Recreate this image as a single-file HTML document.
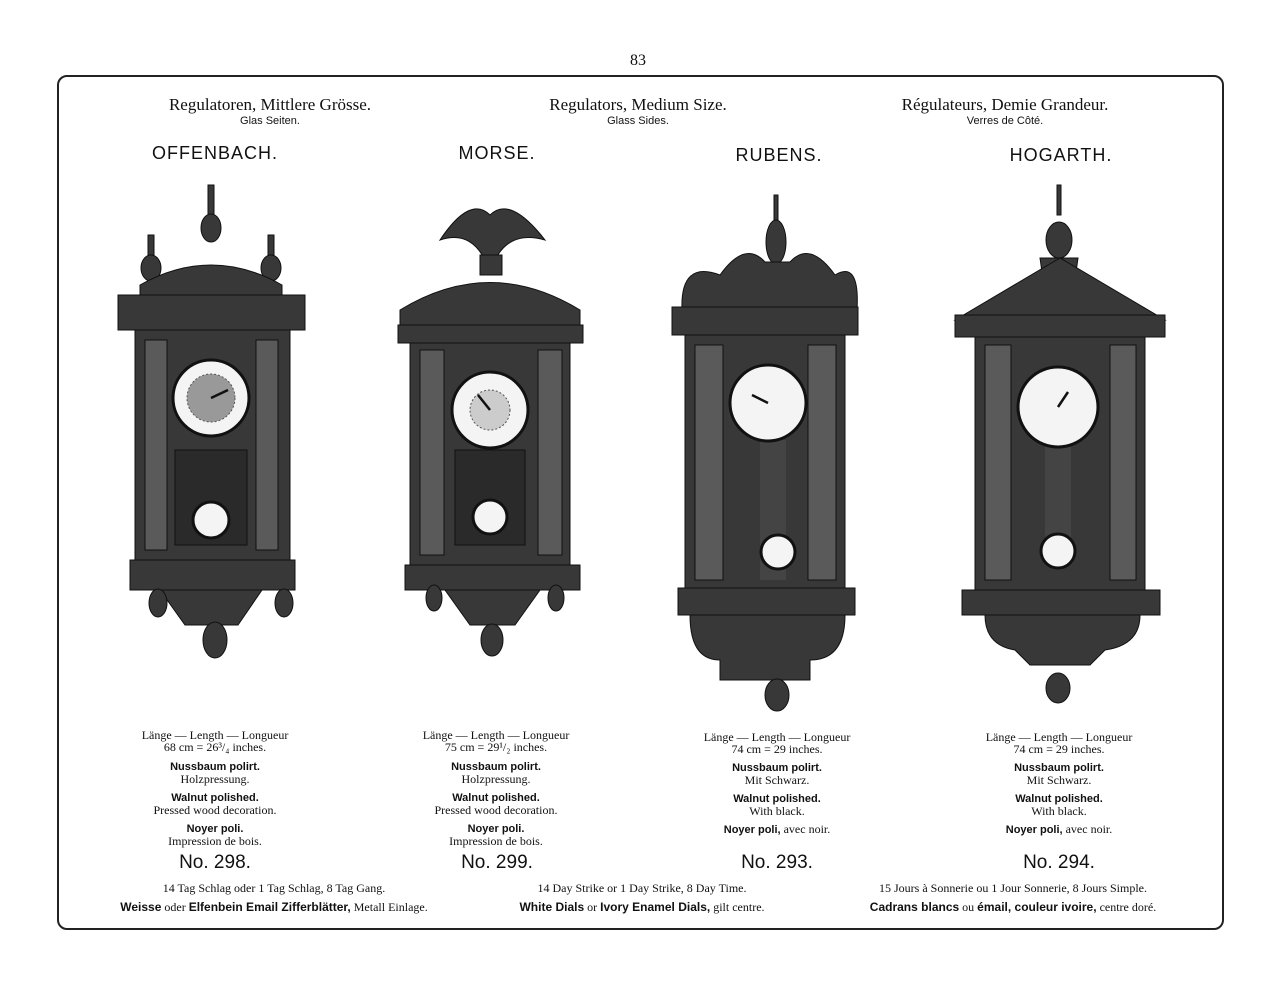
<!DOCTYPE html>
<html><head><meta charset="utf-8">
<style>
body{margin:0;background:#fff;width:1280px;height:985px;position:relative;overflow:hidden;font-family:"Liberation Serif",serif;color:#111}
.frame{position:absolute;left:57px;top:75px;width:1163px;height:851px;border:2px solid #222;border-radius:10px}
.t{position:absolute;white-space:nowrap;transform:translateX(-50%);text-align:center}
.s{font-family:"Liberation Sans",sans-serif}
.b{font-weight:bold}
svg{position:absolute;left:0;top:0}
</style></head><body>
<div class="t" style="left:638px;top:52px;font-size:16px">83</div>
<div class="frame"></div>

<div class="t" style="left:270px;top:95px;font-size:17px">Regulatoren, Mittlere Grösse.</div>
<div class="t s" style="left:270px;top:115px;font-size:11px">Glas Seiten.</div>
<div class="t" style="left:638px;top:95px;font-size:17px">Regulators, Medium Size.</div>
<div class="t s" style="left:638px;top:115px;font-size:11px">Glass Sides.</div>
<div class="t" style="left:1005px;top:95px;font-size:17px">Régulateurs, Demie Grandeur.</div>
<div class="t s" style="left:1005px;top:115px;font-size:11px">Verres de Côté.</div>

<div class="t s" style="left:215px;top:143px;font-size:18px;letter-spacing:1px">OFFENBACH.</div>
<div class="t s" style="left:497px;top:143px;font-size:18px;letter-spacing:1px">MORSE.</div>
<div class="t s" style="left:779px;top:145px;font-size:18px;letter-spacing:1px">RUBENS.</div>
<div class="t s" style="left:1061px;top:145px;font-size:18px;letter-spacing:1px">HOGARTH.</div>

<svg width="1280" height="985" viewBox="0 0 1280 985">
<g fill="#383838" stroke="#111" stroke-width="1">
<rect x="208" y="185" width="6" height="30"/><ellipse cx="211" cy="228" rx="10" ry="14"/>
<rect x="148" y="235" width="6" height="20"/><ellipse cx="151" cy="268" rx="10" ry="13"/>
<rect x="268" y="235" width="6" height="20"/><ellipse cx="271" cy="268" rx="10" ry="13"/>
<path d="M140 300 L140 285 Q211 245 282 285 L282 300Z"/>
<rect x="118" y="295" width="187" height="35"/>
<rect x="135" y="330" width="155" height="230"/>
<rect x="145" y="340" width="22" height="210" fill="#5a5a5a"/><rect x="256" y="340" width="22" height="210" fill="#5a5a5a"/>
<rect x="175" y="450" width="72" height="95" fill="#2a2a2a"/>
<rect x="130" y="560" width="165" height="30"/>
<path d="M160 590 L262 590 L238 625 L185 625Z"/>
<ellipse cx="158" cy="603" rx="9" ry="14"/><ellipse cx="284" cy="603" rx="9" ry="14"/>
<ellipse cx="215" cy="640" rx="12" ry="18"/>
<path d="M440 240 Q470 195 490 215 Q510 195 545 240 Q510 230 495 260 L485 260 Q470 230 440 240Z"/>
<rect x="480" y="255" width="22" height="20"/>
<path d="M400 330 L400 310 Q490 255 580 310 L580 330Z"/>
<rect x="398" y="325" width="185" height="18"/>
<rect x="410" y="343" width="160" height="227"/>
<rect x="420" y="350" width="24" height="205" fill="#5a5a5a"/><rect x="538" y="350" width="24" height="205" fill="#5a5a5a"/>
<rect x="455" y="450" width="70" height="95" fill="#2a2a2a"/>
<rect x="405" y="565" width="175" height="25"/>
<path d="M445 590 L540 590 L515 625 L470 625Z"/>
<ellipse cx="434" cy="598" rx="8" ry="13"/><ellipse cx="556" cy="598" rx="8" ry="13"/>
<ellipse cx="492" cy="640" rx="11" ry="16"/>
<rect x="774" y="195" width="4" height="25"/><ellipse cx="776" cy="242" rx="10" ry="22"/>
<rect x="768" y="262" width="16" height="40"/>
<path d="M682 310 Q680 260 720 275 Q745 240 765 262 L790 262 Q810 240 835 275 Q860 260 857 310Z"/>
<rect x="672" y="307" width="186" height="28"/>
<rect x="685" y="335" width="160" height="255"/>
<rect x="695" y="345" width="28" height="235" fill="#5a5a5a"/><rect x="808" y="345" width="28" height="235" fill="#5a5a5a"/>
<rect x="678" y="588" width="177" height="27"/>
<path d="M690 615 L845 615 Q845 660 810 660 L810 680 L720 680 L720 660 Q690 660 690 615Z"/>
<ellipse cx="777" cy="695" rx="12" ry="16"/>
<rect x="1057" y="185" width="4" height="30"/><ellipse cx="1059" cy="240" rx="13" ry="18"/>
<path d="M1040 258 L1078 258 L1070 315 L1048 315Z"/>
<path d="M955 320 L1060 258 L1165 320Z"/>
<rect x="955" y="315" width="210" height="22"/>
<rect x="975" y="337" width="170" height="253"/>
<rect x="985" y="345" width="26" height="235" fill="#5a5a5a"/><rect x="1110" y="345" width="26" height="235" fill="#5a5a5a"/>
<rect x="962" y="590" width="198" height="25"/>
<path d="M985 615 L1140 615 Q1140 645 1105 650 L1090 665 L1030 665 L1015 650 Q985 645 985 615Z"/>
<ellipse cx="1058" cy="688" rx="12" ry="15"/>
</g>
<g fill="#444">
<rect x="760" y="440" width="26" height="140"/>
<rect x="1045" y="445" width="26" height="120"/>
</g>
<g fill="#f4f4f4" stroke="#111" stroke-width="3">
<circle cx="211" cy="398" r="38"/><circle cx="490" cy="410" r="38"/>
<circle cx="768" cy="403" r="38"/><circle cx="1058" cy="407" r="40"/>
<circle cx="211" cy="520" r="18"/><circle cx="490" cy="517" r="17"/>
<circle cx="778" cy="552" r="17"/><circle cx="1058" cy="551" r="17"/>
</g>
<g fill="#999" stroke="#555" stroke-dasharray="2 2"><circle cx="211" cy="398" r="24"/><circle cx="490" cy="410" r="20" fill="#ccc"/></g>
<g stroke="#111" stroke-width="2.5"><line x1="211" y1="398" x2="228" y2="390"/><line x1="490" y1="410" x2="478" y2="395"/><line x1="768" y1="403" x2="752" y2="395"/><line x1="1058" y1="407" x2="1068" y2="392"/></g>
</svg>

<div style="position:absolute;left:0;top:729px;width:1280px;font-size:12px;line-height:12px">
<div class="t" style="left:215px;top:0">Länge — Length — Longueur</div>
<div class="t" style="left:215px;top:12px">68 cm = 26³/₄ inches.</div>
<div class="t s b" style="left:215px;top:32px;font-size:11px">Nussbaum polirt.</div>
<div class="t" style="left:215px;top:44px">Holzpressung.</div>
<div class="t s b" style="left:215px;top:63px;font-size:11px">Walnut polished.</div>
<div class="t" style="left:215px;top:75px">Pressed wood decoration.</div>
<div class="t s b" style="left:215px;top:94px;font-size:11px">Noyer poli.</div>
<div class="t" style="left:215px;top:106px">Impression de bois.</div>

<div class="t" style="left:496px;top:0">Länge — Length — Longueur</div>
<div class="t" style="left:496px;top:12px">75 cm = 29¹/₂ inches.</div>
<div class="t s b" style="left:496px;top:32px;font-size:11px">Nussbaum polirt.</div>
<div class="t" style="left:496px;top:44px">Holzpressung.</div>
<div class="t s b" style="left:496px;top:63px;font-size:11px">Walnut polished.</div>
<div class="t" style="left:496px;top:75px">Pressed wood decoration.</div>
<div class="t s b" style="left:496px;top:94px;font-size:11px">Noyer poli.</div>
<div class="t" style="left:496px;top:106px">Impression de bois.</div>

<div class="t" style="left:777px;top:2px">Länge — Length — Longueur</div>
<div class="t" style="left:777px;top:14px">74 cm = 29 inches.</div>
<div class="t s b" style="left:777px;top:33px;font-size:11px">Nussbaum polirt.</div>
<div class="t" style="left:777px;top:45px">Mit Schwarz.</div>
<div class="t s b" style="left:777px;top:64px;font-size:11px">Walnut polished.</div>
<div class="t" style="left:777px;top:76px">With black.</div>
<div class="t" style="left:777px;top:94px"><span class="s b" style="font-size:11px">Noyer poli,</span> avec noir.</div>

<div class="t" style="left:1059px;top:2px">Länge — Length — Longueur</div>
<div class="t" style="left:1059px;top:14px">74 cm = 29 inches.</div>
<div class="t s b" style="left:1059px;top:33px;font-size:11px">Nussbaum polirt.</div>
<div class="t" style="left:1059px;top:45px">Mit Schwarz.</div>
<div class="t s b" style="left:1059px;top:64px;font-size:11px">Walnut polished.</div>
<div class="t" style="left:1059px;top:76px">With black.</div>
<div class="t" style="left:1059px;top:94px"><span class="s b" style="font-size:11px">Noyer poli,</span> avec noir.</div>
</div>

<div class="t s" style="left:215px;top:852px;font-size:19px">No. 298.</div>
<div class="t s" style="left:497px;top:852px;font-size:19px">No. 299.</div>
<div class="t s" style="left:777px;top:852px;font-size:19px">No. 293.</div>
<div class="t s" style="left:1059px;top:852px;font-size:19px">No. 294.</div>

<div class="t" style="left:274px;top:881px;font-size:12px">14 Tag Schlag oder 1 Tag Schlag, 8 Tag Gang.</div>
<div class="t" style="left:274px;top:900px;font-size:12px"><span class="s b">Weisse</span> oder <span class="s b">Elfenbein Email Zifferblätter,</span> Metall Einlage.</div>
<div class="t" style="left:642px;top:881px;font-size:12px">14 Day Strike or 1 Day Strike, 8 Day Time.</div>
<div class="t" style="left:642px;top:900px;font-size:12px"><span class="s b">White Dials</span> or <span class="s b">Ivory Enamel Dials,</span> gilt centre.</div>
<div class="t" style="left:1013px;top:881px;font-size:12px">15 Jours à Sonnerie ou 1 Jour Sonnerie, 8 Jours Simple.</div>
<div class="t" style="left:1013px;top:900px;font-size:12px"><span class="s b">Cadrans blancs</span> ou <span class="s b">émail, couleur ivoire,</span> centre doré.</div>
</body></html>
